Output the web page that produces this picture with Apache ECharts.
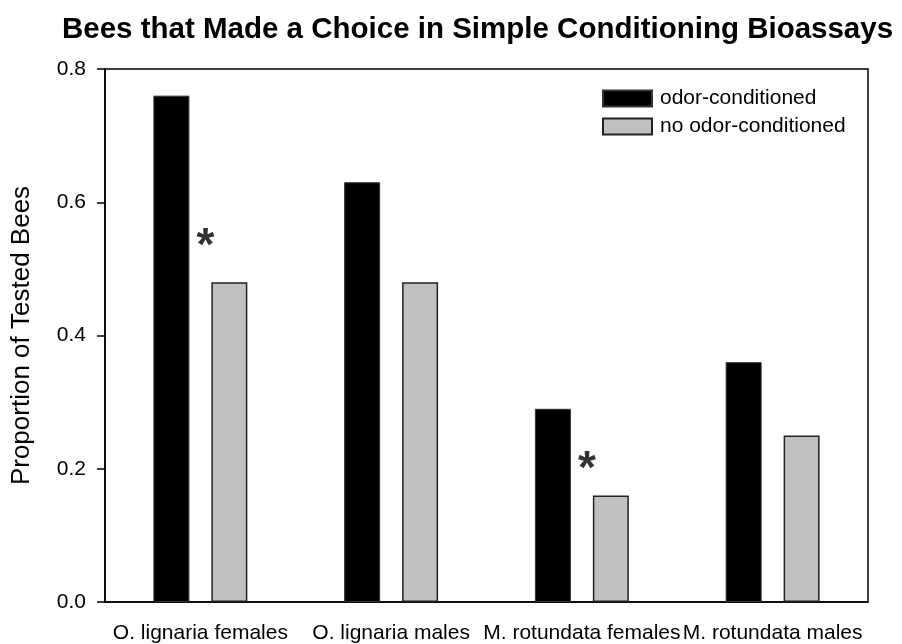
<!DOCTYPE html>
<html>
<head>
<meta charset="utf-8">
<script src="https://cdn.jsdelivr.net/npm/echarts@6/dist/echarts.min.js"></script>
<style>
    html, body { margin: 0; padding: 0; background: #fff; }
    #chart { width: 902px; height: 644px; }
</style>
</head>
<body>
<div id="chart"></div>
<script>
// data
var categories = ['O. lignaria females', 'O. lignaria males', 'M. rotundata females', 'M. rotundata males']
var odorConditioned = [0.76, 0.63, 0.29, 0.36]
var noOdorConditioned = [0.48, 0.48, 0.16, 0.25]
// significance markers: [category index, height]
var significance = [[0, 0.532], [2, 0.197]]
var yTicks = [0, 0.2, 0.4, 0.6, 0.8]

var font = 'Liberation Sans, Arial, sans-serif'
var chart = echarts.init(document.getElementById('chart'), null, { renderer: 'canvas' })

chart.setOption({
    backgroundColor: '#fff',
    animation: false,
    title: {
        text: 'Bees that Made a Choice in Simple Conditioning Bioassays',
        left: 57,
        top: 10,
        textStyle: {
            fontFamily: font,
            fontSize: 29.5,
            fontWeight: 'bold',
            color: '#000'
        }
    },
    legend: {
        data: ['odor-conditioned', 'no odor-conditioned'],
        orient: 'vertical',
        left: 597,
        top: 83,
        itemWidth: 49,
        itemHeight: 16,
        itemGap: 7,
        icon: 'rect',
        textStyle: {
            fontFamily: font,
            fontSize: 21,
            color: '#000',
            padding: [0, 0, 0, 3]
        }
    },
    grid: {
        left: 105,
        right: 34,
        top: 69,
        bottom: 41,
        show: true,
        borderColor: '#000',
        borderWidth: 1.5,
        backgroundColor: 'transparent'
    },
    xAxis: {
        type: 'category',
        data: categories,
        axisLine: { lineStyle: { color: '#000', width: 1.5 } },
        axisTick: {
            alignWithLabel: true,
            length: 8,
            lineStyle: { color: '#000', width: 1.5 }
        },
        axisLabel: {
            interval: 0,
            margin: 21,
            fontFamily: font,
            fontSize: 21,
            color: '#000'
        }
    },
    yAxis: {
        type: 'value',
        min: yTicks[0],
        max: yTicks[yTicks.length - 1],
        interval: 0.2,
        name: 'Proportion of Tested Bees',
        nameLocation: 'middle',
        nameGap: 70,
        nameTextStyle: {
            fontFamily: font,
            fontSize: 26,
            color: '#000'
        },
        axisLine: { show: true, lineStyle: { color: '#000', width: 1.5 } },
        axisTick: { show: true, length: 8, lineStyle: { color: '#000', width: 1.5 } },
        splitLine: { show: false },
        axisLabel: {
            margin: 19,
            fontFamily: font,
            fontSize: 21,
            color: '#000',
            formatter: function (v) { return v.toFixed(1) }
        }
    },
    series: [
        {
            name: 'odor-conditioned',
            type: 'bar',
            barWidth: 36,
            barGap: '61%',
            itemStyle: {
                color: '#000',
                borderColor: '#333',
                borderWidth: 1
            },
            data: odorConditioned
        },
        {
            name: 'no odor-conditioned',
            type: 'bar',
            barWidth: 36,
            itemStyle: {
                color: '#c0c0c0',
                borderColor: '#222',
                borderWidth: 1.5
            },
            data: noOdorConditioned
        },
        {
            name: 'significance',
            type: 'scatter',
            symbolSize: 0,
            silent: true,
            label: {
                show: true,
                position: 'inside',
                offset: [5, 0],
                formatter: '*',
                fontFamily: font,
                fontSize: 46,
                fontWeight: 'bold',
                color: '#000'
            },
            data: significance
        }
    ]
})
</script>
</body>
</html>
